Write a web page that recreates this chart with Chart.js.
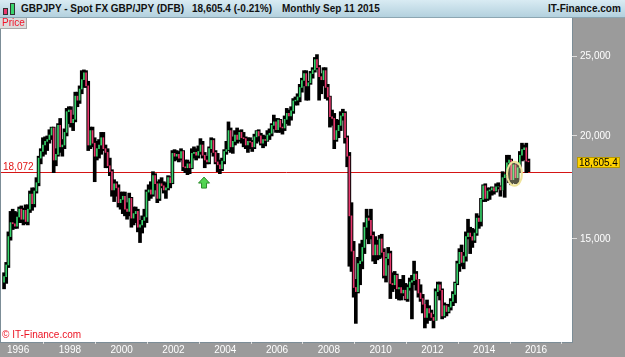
<!DOCTYPE html>
<html>
<head>
<meta charset="utf-8">
<script src="https://cdn.jsdelivr.net/npm/chart.js@4.4.0/dist/chart.umd.min.js"></script>
<style>
    html, body { margin: 0; padding: 0; background: #fff; }
    body { width: 625px; height: 357px; position: relative; overflow: hidden; font-family: "Liberation Sans", Arial, sans-serif; }
    #header { position: absolute; left: 0; top: 0; width: 625px; height: 17px; background: linear-gradient(#d9ebf3, #b3d1de); border-bottom: 1px solid #8ca6b2; }
    #header span { position: absolute; top: 3px; font-size: 10px; font-weight: bold; color: #111; line-height: 12px; white-space: nowrap; }
    .candle { position: absolute; border: 1px solid #333; box-sizing: border-box; }
    #chartBox { position: absolute; left: 0; top: 18px; width: 625px; height: 339px; }
    #priceTag { position: absolute; left: 0; top: 18px; width: 27px; height: 11px; background: #dcdcdc; border-right: 1px solid #a9a9a9; border-bottom: 1px solid #a9a9a9; box-sizing: border-box; color: #f2142a; font-size: 10px; line-height: 10px; padding-left: 2px; }
    #copyright { position: absolute; left: 2px; top: 329px; color: #ec1424; font-size: 10px; line-height: 12px; }
</style>
</head>
<body>
<div id="header">
    <div class="candle" style="left:3px; top:8px; width:5px; height:7px; background:#e8386e;"></div>
    <div class="candle" style="left:10px; top:3px; width:5px; height:12px; background:#38d46c;"></div>
    <span style="left:21px;">GBPJPY - Spot FX GBP/JPY (DFB)</span>
    <span style="left:192px;">18,605.4 (-0.21%)</span>
    <span style="left:282px;">Monthly</span>
    <span style="left:323px;">Sep 11 2015</span>
    <span style="left:548px;">IT-Finance.com</span>
</div>
<div id="chartBox"><canvas id="priceChart" width="625" height="339"></canvas></div>
<div id="priceTag">Price</div>
<div id="copyright">© IT-Finance.com</div>
<script>
// monthly GBP/JPY candles, first bar is June 1995
const firstYear = 1995;
const firstMonth = 6;

const open = [
    13300, 13500, 13950, 15100, 15700, 15650, 15550,
    15950, 16300, 15850, 16250, 15750, 16300, 17000, 16550, 17150, 17550, 18800, 19150,
    19500, 19700, 19800, 20050, 20450, 18700, 19000, 20600, 19400, 19500, 20200, 21400,
    21500, 20750, 20950, 22350, 22100, 22800, 23400, 23850, 23000, 19500, 20300, 19600,
    18900, 19300, 19500, 19900, 19300, 19100, 18400, 18100, 17200, 17500, 17300, 16600,
    16750, 16900, 16300, 16200, 16800, 15900, 16100, 16200, 15500, 15600, 15800, 15950,
    17100, 17200, 17000, 17900, 17500, 16800, 17500, 17400, 17200, 17300, 17800, 17550,
    19050, 18900, 19000, 18800, 19150, 18350, 18300, 18500, 18300, 19050, 19100, 18950,
    19150, 19500, 18950, 18700, 18600, 19300, 19750, 19100, 18600, 18450, 18250, 18650,
    19150, 19250, 20300, 19400, 19700, 20050, 19800, 20200, 19900, 19850, 19500, 19700,
    19650, 19400, 19950, 20250, 20000, 19600, 19800, 19750, 20050, 20150, 20600, 20800,
    20350, 20900, 20500, 20450, 20950, 21300, 21150, 21450, 22050, 22100, 22300, 22900,
    23350, 23800, 23000, 23200, 23800, 24050, 24750, 24200, 23600, 23400, 24000, 22900,
    22300, 21100, 21000, 19800, 20300, 20600, 21150, 21300, 19900, 18900, 16000, 14500,
    13100, 12950, 14000, 14100, 14650, 15500, 15900, 15800, 15150, 14350, 14750, 14350,
    15000, 14450, 13550, 14200, 14400, 13250, 13200, 13550, 13050, 13100, 12900, 13000,
    12700, 13100, 13300, 13350, 13600, 13400, 12900, 12700, 12500, 12050, 12350, 12200,
    12050, 11950, 12950, 13200, 13000, 12100, 12450, 12250, 12400, 12600, 12850, 13250,
    14000, 14450, 14050, 14300, 15100, 15250, 15100, 14950, 15250, 15900, 15750, 16750,
    17400, 16800, 17150, 17200, 17300, 17150, 17350, 17350, 17200, 17800, 17950, 18550,
    18700, 17700, 18450, 17800, 18300, 18950, 19250, 19350, 18644
];
const high = [
    13650, 14050, 15300, 16200, 16300, 16200, 16150,
    16400, 16450, 16350, 16500, 16500, 17150, 17300, 17300, 17800, 18900, 19300, 19900,
    19950, 20000, 20350, 20500, 20500, 19300, 20700, 21000, 19800, 20400, 21600, 21700,
    21700, 21200, 22600, 22600, 23000, 24000, 24050, 24000, 23300, 20500, 20500, 19900,
    19700, 19800, 20200, 20200, 19500, 19300, 18800, 18200, 17700, 17600, 17450, 17100,
    17100, 17100, 16600, 17050, 16850, 16400, 16400, 16300, 15800, 16000, 16300, 17200,
    17450, 17600, 18100, 18000, 17600, 17700, 17800, 17600, 17550, 17900, 17850, 19200,
    19250, 19200, 19150, 19300, 19200, 18700, 18700, 18600, 19300, 19400, 19300, 19450,
    19850, 19700, 19100, 18900, 19400, 19900, 19850, 19200, 19050, 18700, 18800, 19250,
    19700, 20800, 20450, 19950, 20300, 20450, 20300, 20350, 20200, 19950, 19900, 19900,
    19750, 20100, 20300, 20350, 20150, 20050, 20000, 20300, 20400, 20700, 21200, 21000,
    21000, 20950, 20700, 21150, 21600, 21500, 21700, 22200, 22300, 22500, 23100, 23500,
    24000, 24000, 23300, 23950, 24200, 24900, 25100, 24350, 23800, 24200, 24200, 23100,
    22350, 21500, 21300, 20950, 20900, 21400, 21550, 21400, 20000, 19100, 16600, 14900,
    13400, 14250, 14800, 14950, 15700, 16300, 16000, 16300, 15300, 15100, 14950, 15150,
    15200, 14600, 14250, 14650, 14500, 13650, 13700, 13600, 13400, 13400, 13550, 13250,
    13200, 13450, 13550, 14100, 13700, 13400, 13200, 12850, 12500, 12650, 12450, 12300,
    12150, 13050, 13300, 13300, 13050, 12550, 12500, 12500, 12700, 12950, 13300, 14100,
    14600, 14750, 14450, 15300, 15850, 15500, 15450, 15400, 16100, 16000, 16800, 17450,
    17500, 17300, 17300, 17350, 17300, 17500, 17550, 17400, 18100, 18000, 18950, 18950,
    18750, 18550, 18500, 18450, 19150, 19600, 19500, 19600, 18750
];
const low = [
    13050, 13250, 13850, 14950, 15400, 15450, 15450,
    15700, 15700, 15600, 15650, 15600, 16150, 16250, 16400, 17050, 17400, 18500, 18900,
    19000, 19200, 19600, 19800, 18050, 18400, 18900, 19100, 18900, 19300, 20000, 20700,
    20500, 20300, 20800, 21700, 21900, 22500, 22900, 22900, 19200, 19300, 19400, 17600,
    18700, 18800, 19000, 19200, 18300, 18300, 17900, 16900, 16650, 16900, 16400, 16300,
    16100, 16000, 15850, 16000, 15500, 15600, 15700, 15300, 14850, 15250, 15500, 15700,
    16700, 16800, 16900, 17200, 16600, 16700, 17300, 17050, 16800, 17200, 17300, 17500,
    18650, 18700, 18600, 18700, 18150, 18050, 17950, 18000, 18250, 18800, 18700, 18800,
    19000, 18800, 18300, 18500, 18500, 19100, 18900, 18500, 18100, 18000, 18150, 18500,
    19000, 19200, 19100, 19050, 19500, 19600, 19700, 19600, 19400, 19300, 19100, 19300,
    19150, 19300, 19600, 19700, 19500, 19350, 19450, 19700, 19800, 20000, 20400, 20200,
    20200, 20200, 20100, 20300, 20700, 20600, 20900, 21300, 21800, 21800, 22000, 22600,
    23000, 22100, 22100, 23100, 23500, 23900, 24100, 22100, 22500, 23000, 22200, 22100,
    20500, 20600, 19300, 19700, 19900, 20300, 20900, 19600, 18350, 13900, 13700, 12750,
    11850, 12900, 13200, 13800, 14400, 15000, 14800, 15000, 14100, 14000, 14150, 14200,
    14250, 13450, 13300, 13950, 12700, 12950, 13050, 12700, 12650, 12650, 12800, 12650,
    12600, 13000, 12000, 13200, 13000, 12750, 12600, 12200, 11700, 11850, 11950, 11950,
    11700, 11950, 12800, 12650, 12000, 12050, 12100, 12200, 12300, 12450, 12550, 13200,
    13700, 13900, 13800, 14100, 15000, 14400, 14650, 14850, 15150, 15450, 15550, 16650,
    16650, 16700, 16750, 16950, 17000, 17100, 17250, 16900, 17200, 16850, 17900, 17550,
    17450, 17550, 17500, 17500, 18050, 18650, 18700, 18050, 18100
];
const close = [
    13500, 13950, 15100, 15700, 15650, 15550, 15950,
    16300, 15850, 16250, 15750, 16300, 17000, 16550, 17150, 17550, 18800, 19150, 19500,
    19700, 19800, 20050, 20450, 18700, 19000, 20600, 19400, 19500, 20200, 21400, 21500,
    20750, 20950, 22350, 22100, 22800, 23400, 23850, 23000, 19500, 20300, 19600, 18900,
    19300, 19500, 19900, 19300, 19100, 18400, 18100, 17200, 17500, 17300, 16600, 16750,
    16900, 16300, 16200, 16800, 15900, 16100, 16200, 15500, 15600, 15800, 15950, 17100,
    17200, 17000, 17900, 17500, 16800, 17500, 17400, 17200, 17300, 17800, 17550, 19050,
    18900, 19000, 18800, 19150, 18350, 18300, 18500, 18300, 19050, 19100, 18950, 19150,
    19500, 18950, 18700, 18600, 19300, 19750, 19100, 18600, 18450, 18250, 18650, 19150,
    19250, 20300, 19400, 19700, 20050, 19800, 20200, 19900, 19850, 19500, 19700, 19650,
    19400, 19950, 20250, 20000, 19600, 19800, 19750, 20050, 20150, 20600, 20800, 20350,
    20900, 20500, 20450, 20950, 21300, 21150, 21450, 22050, 22100, 22300, 22900, 23350,
    23800, 23000, 23200, 23800, 24050, 24750, 24200, 23600, 23400, 24000, 22900, 22300,
    21100, 21000, 19800, 20300, 20600, 21150, 21300, 19900, 18900, 16000, 14500, 13100,
    12950, 14000, 14100, 14650, 15500, 15900, 15800, 15150, 14350, 14750, 14350, 15000,
    14450, 13550, 14200, 14400, 13250, 13200, 13550, 13050, 13100, 12900, 13000, 12700,
    13100, 13300, 13350, 13600, 13400, 12900, 12700, 12500, 12050, 12350, 12200, 12050,
    11950, 12950, 13200, 13000, 12100, 12450, 12250, 12400, 12600, 12850, 13250, 14000,
    14450, 14050, 14300, 15100, 15250, 15100, 14950, 15250, 15900, 15750, 16750, 17400,
    16800, 17150, 17200, 17300, 17150, 17350, 17350, 17200, 17800, 17950, 18550, 18700,
    17700, 18450, 17800, 18300, 18950, 19250, 19350, 18644, 18605.4
];

const yearTicks = [1996, 1998, 2000, 2002, 2004, 2006, 2008, 2010, 2012, 2014, 2016];
const priceTicks = [15000, 20000, 25000];
const refLevel = 18072;
const lastPrice = 18605.4;
const arrowMark = { year: 2003.18, price: 17830 };
const circleMark = { year: 2015.17, price: 18000 };

const fontFamily = '"Liberation Sans", Arial, sans-serif';
const upColor = '#38d46c';
const downColor = '#e8386e';

// month labels and their position on the time axis (middle of the month)
const months = [];
const monthPos = [];
for (let i = 0; i < close.length; i++) {
    const m = firstMonth - 1 + i;
    const y = firstYear + Math.floor(m / 12);
    months.push(y + '-' + String(m % 12 + 1).padStart(2, '0'));
    monthPos.push(y + (m % 12 + 0.5) / 12);
}

const bodies = months.map((m, i) => ({ x: monthPos[i], y: [open[i], close[i]] }));
const ranges = months.map((m, i) => ({ x: monthPos[i], y: [low[i], high[i]] }));

const chartDecor = {
    id: 'chartDecor',
    beforeDraw(chart) {
        const { ctx, chartArea: a, width, height } = chart;
        ctx.save();
        ctx.fillStyle = '#9b9b9b';
        ctx.fillRect(0, 0, width, height);
        ctx.fillStyle = '#ffffff';
        ctx.fillRect(a.left, a.top, a.right - a.left, a.bottom - a.top);
        ctx.strokeStyle = '#7c8d97';
        ctx.lineWidth = 1;
        ctx.strokeRect(a.left - 0.5, a.top - 0.5, a.right - a.left + 1, a.bottom - a.top + 1);
        ctx.restore();
    },
    beforeDatasetsDraw(chart) {
        const { ctx, chartArea: a } = chart;
        const y = Math.round(chart.scales.y.getPixelForValue(refLevel)) + 0.5;
        ctx.save();
        ctx.strokeStyle = '#d51515';
        ctx.lineWidth = 1;
        ctx.beginPath();
        ctx.moveTo(a.left, y);
        ctx.lineTo(a.right, y);
        ctx.stroke();
        ctx.restore();
    },
    afterDatasetsDraw(chart) {
        const { ctx, chartArea: a } = chart;
        const xs = chart.scales.x, ys = chart.scales.y;
        ctx.save();

        // highlight circle
        const cx = xs.getPixelForValue(circleMark.year);
        const cy = ys.getPixelForValue(circleMark.price);
        ctx.beginPath();
        ctx.ellipse(cx, cy, 7.5, 12, 0, 0, Math.PI * 2);
        ctx.fillStyle = 'rgba(250, 244, 190, 0.35)';
        ctx.fill();
        ctx.strokeStyle = '#efe49a';
        ctx.lineWidth = 2;
        ctx.stroke();

        // green arrow
        const ax = xs.getPixelForValue(arrowMark.year);
        const ay = ys.getPixelForValue(arrowMark.price);
        ctx.beginPath();
        ctx.moveTo(ax, ay);
        ctx.lineTo(ax + 5.5, ay + 6);
        ctx.lineTo(ax + 2.5, ay + 6);
        ctx.lineTo(ax + 2.5, ay + 11);
        ctx.lineTo(ax - 2.5, ay + 11);
        ctx.lineTo(ax - 2.5, ay + 6);
        ctx.lineTo(ax - 5.5, ay + 6);
        ctx.closePath();
        ctx.fillStyle = '#52d452';
        ctx.fill();
        ctx.strokeStyle = '#2b8c2b';
        ctx.lineWidth = 1;
        ctx.stroke();

        // level label
        ctx.font = '10px ' + fontFamily;
        ctx.fillStyle = '#e01414';
        ctx.textBaseline = 'alphabetic';
        ctx.textAlign = 'left';
        ctx.fillText(refLevel.toLocaleString('en-US'), a.left + 2, ys.getPixelForValue(refLevel) - 2);
        ctx.restore();
    },
    afterDraw(chart) {
        const { ctx, chartArea: a } = chart;
        const y = chart.scales.y.getPixelForValue(lastPrice);
        const text = lastPrice.toLocaleString('en-US', { minimumFractionDigits: 1 });
        ctx.save();
        ctx.font = '10px ' + fontFamily;
        const w = ctx.measureText(text).width + 3;
        ctx.fillStyle = '#ffd200';
        ctx.fillRect(a.right + 5.5, Math.round(y) - 4.5, w, 10);
        ctx.strokeStyle = '#b89a00';
        ctx.lineWidth = 1;
        ctx.strokeRect(a.right + 5.5, Math.round(y) - 4.5, w, 10);
        ctx.fillStyle = '#000';
        ctx.textBaseline = 'middle';
        ctx.fillText(text, a.right + 7, Math.round(y) + 1);
        ctx.restore();
    }
};

const ctx = document.getElementById('priceChart').getContext('2d');
new Chart(ctx, {
    type: 'bar',
    data: {
        datasets: [
            {
                label: 'Open / Close',
                data: bodies,
                backgroundColor: c => (close[c.dataIndex] >= open[c.dataIndex] ? upColor : downColor),
                barThickness: 1,
                grouped: false,
                order: 0
            },
            {
                label: 'Low / High',
                data: ranges,
                backgroundColor: '#000000',
                barThickness: 3,
                grouped: false,
                order: 1
            }
        ]
    },
    options: {
        responsive: false,
        animation: false,
        events: [],
        layout: { padding: { left: 1, top: 0, right: 0, bottom: 0 } },
        plugins: {
            legend: { display: false },
            tooltip: { enabled: false }
        },
        scales: {
            x: {
                type: 'linear',
                min: 1995.34,
                max: 2017.39,
                offset: false,
                afterBuildTicks: s => { s.ticks = yearTicks.map(v => ({ value: v })); },
                afterFit: s => { s.height = 15; s.paddingLeft = 0; s.paddingRight = 0; },
                grid: { drawOnChartArea: false, drawTicks: true, tickLength: 2, color: '#dcdcdc' },
                border: { display: false },
                ticks: {
                    color: '#ffffff',
                    font: { family: fontFamily, size: 10 },
                    padding: 0,
                    maxRotation: 0,
                    autoSkip: false,
                    callback: v => String(v)
                }
            },
            y: {
                type: 'logarithmic',
                position: 'right',
                min: 11250,
                max: 27800,
                afterBuildTicks: s => { s.ticks = priceTicks.map(v => ({ value: v })); },
                afterFit: s => { s.width = 53; s.paddingTop = 0; s.paddingBottom = 0; },
                grid: { drawOnChartArea: false, drawTicks: true, tickLength: 5, color: '#dcdcdc' },
                border: { display: false },
                ticks: {
                    color: '#ffffff',
                    font: { family: fontFamily, size: 10 },
                    padding: 3,
                    callback: v => Number(v).toLocaleString('en-US')
                }
            }
        }
    },
    plugins: [chartDecor]
});
</script>
</body>
</html>
